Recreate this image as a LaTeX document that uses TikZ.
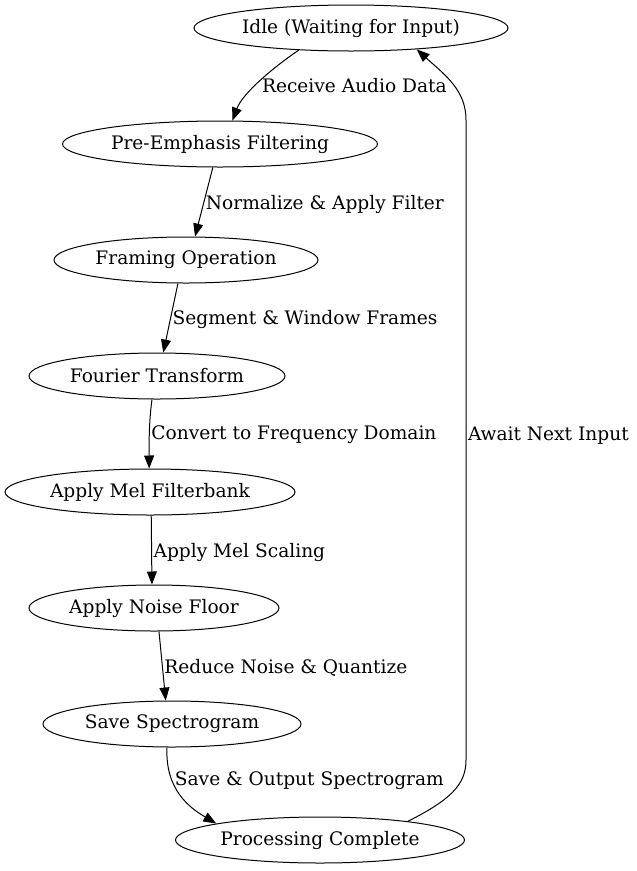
\documentclass[tikz,border=0pt]{standalone}
\usepackage{fontspec}
\setmainfont{DejaVu Serif}
\usetikzlibrary{arrows.meta, shapes.geometric}

\tikzset{
  state/.style={draw, ellipse, line width=1pt, inner sep=0pt, minimum height=46pt, font=\fontsize{18.6}{22}\selectfont},
  flow/.style={draw, line width=1pt, -{Triangle[length=13pt, width=10pt]}},
  elabel/.style={anchor=west, inner sep=1.5pt, yshift=-2pt, font=\fontsize{18.6}{22}\selectfont}
}

\begin{document}
\begin{tikzpicture}[x=1pt, y=1pt]
  \useasboundingbox (0, 0) rectangle (637, -871);

  % States
  \node[state, minimum width=314pt] (idle)   at (351, -28)  {Idle (Waiting for Input)};
  \node[state, minimum width=315pt] (pre)    at (220, -144) {Pre-Emphasis Filtering};
  \node[state, minimum width=264pt] (frame)  at (186, -260) {Framing Operation};
  \node[state, minimum width=256pt] (fft)    at (157, -376) {Fourier Transform};
  \node[state, minimum width=290pt] (mel)    at (150, -492) {Apply Mel Filterbank};
  \node[state, minimum width=250pt] (noise)  at (154, -608) {Apply Noise Floor};
  \node[state, minimum width=258pt] (save)   at (172, -724) {Save Spectrogram};
  \node[state, minimum width=289pt] (done)   at (320, -840) {Processing Complete};

  % Transitions
  \draw[flow] (idle.-157) .. controls (278, -64) and (243, -92) .. (pre.62)
    node[elabel, pos=0.55, xshift=2pt] {Receive Audio Data};
  \draw[flow] (pre.-107) -- (frame.69)
    node[elabel, pos=0.5] {Normalize \& Apply Filter};
  \draw[flow] (frame.-109) -- (fft.75)
    node[elabel, pos=0.5] {Segment \& Window Frames};
  \draw[flow] (fft.-102) .. controls (149, -420) and (149, -445) .. (mel.92)
    node[elabel, pos=0.5] {Convert to Frequency Domain};
  \draw[flow] (mel.-87) -- (noise.95)
    node[elabel, pos=0.5] {Apply Mel Scaling};
  \draw[flow] (noise.-78) -- (save.105)
    node[elabel, pos=0.5] {Reduce Noise \& Quantize};
  \draw[flow] (save.-102) .. controls (165, -790) and (190, -808) .. (done.171)
    node[elabel, pos=0.33, yshift=4pt] {Save \& Output Spectrogram};
  \draw[flow] (done.12) .. controls (450, -800) and (466, -785) .. (466, -760)
    -- node[elabel, pos=0.51] {Await Next Input} (466, -120)
    .. controls (466, -90) and (445, -75) .. (idle.-18);
\end{tikzpicture}
\end{document}
